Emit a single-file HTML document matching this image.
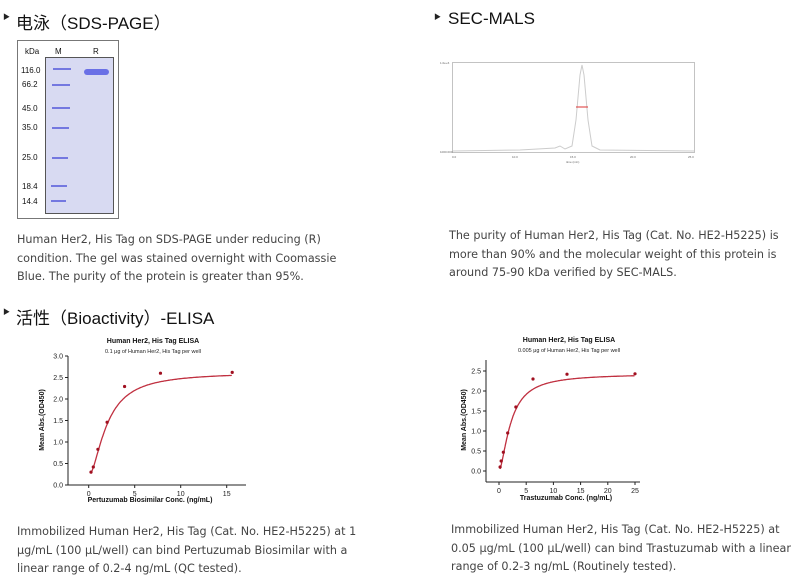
<!DOCTYPE html>
<html><head><meta charset="utf-8"><style>
body{margin:0;width:800px;height:587px;background:#fff;position:relative;overflow:hidden;font-family:"Liberation Sans","Noto Sans CJK SC",sans-serif}
.t{position:absolute;font-size:17px;color:#111;white-space:nowrap}
.b{position:absolute;font-size:7px;color:#222}
.p{position:absolute;color:#444;line-height:18.5px;white-space:nowrap;font-family:"DejaVu Sans",sans-serif;font-size:11.2px}
svg{position:absolute;left:0;top:0}
</style></head><body>
<div class="b" style="left:3px;top:12px">▶</div><div class="t" style="left:16px;top:9px">电泳（SDS-PAGE）</div>
<div class="b" style="left:434px;top:12px">▶</div><div class="t" style="left:448px;top:9px">SEC-MALS</div>
<div class="b" style="left:3px;top:307px">▶</div><div class="t" style="left:16px;top:304px">活性（Bioactivity）-ELISA</div>

<div class="p" style="left:17px;top:231px">Human Her2, His Tag on SDS-PAGE under reducing (R)<br>condition. The gel was stained overnight with Coomassie<br>Blue. The purity of the protein is greater than 95%.</div>
<div class="p" style="left:449px;top:227px">The purity of Human Her2, His Tag (Cat. No. HE2-H5225) is<br>more than 90% and the molecular weight of this protein is<br>around 75-90 kDa verified by SEC-MALS.</div>
<div class="p" style="left:17px;top:523px">Immobilized Human Her2, His Tag (Cat. No. HE2-H5225) at 1<br>μg/mL (100 μL/well) can bind Pertuzumab Biosimilar with a<br>linear range of 0.2-4 ng/mL (QC tested).</div>
<div class="p" style="left:451px;top:521px">Immobilized Human Her2, His Tag (Cat. No. HE2-H5225) at<br>0.05 μg/mL (100 μL/well) can bind Trastuzumab with a linear<br>range of 0.2-3 ng/mL (Routinely tested).</div>

<svg width="800" height="587" font-family="Liberation Sans, sans-serif">
<rect x="17.5" y="40.5" width="101" height="178" fill="#fff" stroke="#777"/>
<rect x="45.5" y="57.5" width="68" height="156" fill="#d8daf2" stroke="#555"/>
<g font-size="8" fill="#111"><text x="25" y="54">kDa</text><text x="55" y="54">M</text><text x="93" y="54">R</text>
<text x="21" y="73">116.0</text><text x="22" y="87">66.2</text><text x="22" y="111">45.0</text><text x="22" y="130">35.0</text><text x="22" y="160">25.0</text><text x="22" y="189">18.4</text><text x="22" y="204">14.4</text></g>
<g stroke="#7478e0" stroke-width="2"><line x1="53" y1="69" x2="71" y2="69"/><line x1="52" y1="85" x2="70" y2="85"/><line x1="52" y1="108" x2="70" y2="108"/><line x1="52" y1="128" x2="69" y2="128"/><line x1="52" y1="158" x2="68" y2="158"/><line x1="51" y1="186" x2="67" y2="186"/><line x1="51" y1="201" x2="66" y2="201"/></g>
<rect x="84" y="69" width="25" height="6" rx="3" fill="#6a70e6"/>
<rect x="452.5" y="62.5" width="242" height="90" fill="none" stroke="#aaa" stroke-width="0.7"/>
<path d="M453 151 L520 150 L555 148 L560 146 L565 149 L572 146 L576 120 L580 75 L582 65 L584 75 L588 120 L592 146 L600 150 L694 151" fill="none" stroke="#ccc" stroke-width="1"/>
<line x1="576" y1="107" x2="588" y2="107" stroke="#d33" stroke-width="1"/>
<g font-size="3" fill="#666"><text x="440" y="64">1.0e+6</text><text x="440" y="153">1000.000</text><text x="452" y="158">0.0</text><text x="512" y="158">10.0</text><text x="570" y="158">15.0</text><text x="630" y="158">20.0</text><text x="688" y="158">25.0</text><text x="566" y="163">time (min)</text></g>
<g id="c1"></g><g id="c2"></g>
</svg>
<script>
function chart(id,o){
 var g=document.getElementById(id),s='';
 var X=function(v){return o.x0+v*o.sx},Y=function(v){return o.y0-v*o.sy};
 s+='<line x1="'+o.ax+'" y1="'+o.top+'" x2="'+o.ax+'" y2="'+o.bot+'" stroke="#222" stroke-width="1"/>';
 s+='<line x1="'+o.ax+'" y1="'+o.bot+'" x2="'+o.right+'" y2="'+o.bot+'" stroke="#222" stroke-width="1"/>';
 o.yt.forEach(function(v){var y=Y(v);s+='<line x1="'+(o.ax-3)+'" y1="'+y+'" x2="'+o.ax+'" y2="'+y+'" stroke="#222"/><text x="'+(o.ax-5)+'" y="'+(y+2.5)+'" font-size="7" text-anchor="end" fill="#222">'+v.toFixed(1)+'</text>'});
 o.xt.forEach(function(v){var x=X(v);s+='<line x1="'+x+'" y1="'+o.bot+'" x2="'+x+'" y2="'+(o.bot+3)+'" stroke="#222"/><text x="'+x+'" y="'+(o.bot+11)+'" font-size="7" text-anchor="middle" fill="#222">'+v+'</text>'});
 var d='';for(var x=o.xs;x<=o.xe;x+=0.1){var y=o.A+(o.D-o.A)*Math.pow(x,o.n)/(Math.pow(o.c,o.n)+Math.pow(x,o.n));d+=(d?'L':'M')+X(x).toFixed(1)+' '+Y(y).toFixed(1)}
 s+='<path d="'+d+'" fill="none" stroke="#c03040" stroke-width="1.3"/>';
 o.pts.forEach(function(p){s+='<circle cx="'+X(p[0])+'" cy="'+Y(p[1])+'" r="1.6" fill="#a01020"/>'});
 s+='<text x="'+o.cx+'" y="'+o.ty+'" font-size="7" font-weight="bold" text-anchor="middle" fill="#111">Human Her2, His Tag ELISA</text>';
 s+='<text x="'+o.cx+'" y="'+(o.ty+10)+'" font-size="5.5" text-anchor="middle" fill="#222">'+o.sub+'</text>';
 s+='<text x="'+o.xlx+'" y="'+o.xly+'" font-size="7" font-weight="bold" text-anchor="middle" fill="#111">'+o.xl+'</text>';
 s+='<text transform="translate('+o.ylx+','+o.yly+') rotate(-90)" font-size="7" font-weight="bold" text-anchor="middle" fill="#111">Mean Abs.(OD450)</text>';
 g.innerHTML=s;
}
chart('c1',{x0:88.7,sx:9.2,y0:485,sy:43,ax:68,top:356,bot:485,right:246,yt:[0,0.5,1,1.5,2,2.5,3],xt:[0,5,10,15],A:0.2,D:2.62,c:2,n:1.7,xs:0.25,xe:15.6,
 pts:[[0.25,0.3],[0.5,0.42],[1,0.83],[2,1.46],[3.9,2.29],[7.8,2.6],[15.6,2.62]],cx:153,ty:343,sub:'0.1 μg of Human Her2, His Tag per well',xl:'Pertuzumab Biosimilar  Conc. (ng/mL)',xlx:150,xly:502,ylx:44,yly:420});
chart('c2',{x0:499,sx:5.44,y0:471,sy:40,ax:486,top:360,bot:482,right:640,yt:[0,0.5,1,1.5,2,2.5],xt:[0,5,10,15,20,25],A:0.0,D:2.43,c:2.2,n:1.6,xs:0.2,xe:25,
 pts:[[0.2,0.1],[0.4,0.25],[0.8,0.47],[1.6,0.95],[3.1,1.6],[6.25,2.3],[12.5,2.42],[25,2.43]],cx:569,ty:342,sub:'0.005 μg of Human Her2, His Tag per well',xl:'Trastuzumab Conc. (ng/mL)',xlx:566,xly:500,ylx:466,yly:420});
</script>
</body></html>
